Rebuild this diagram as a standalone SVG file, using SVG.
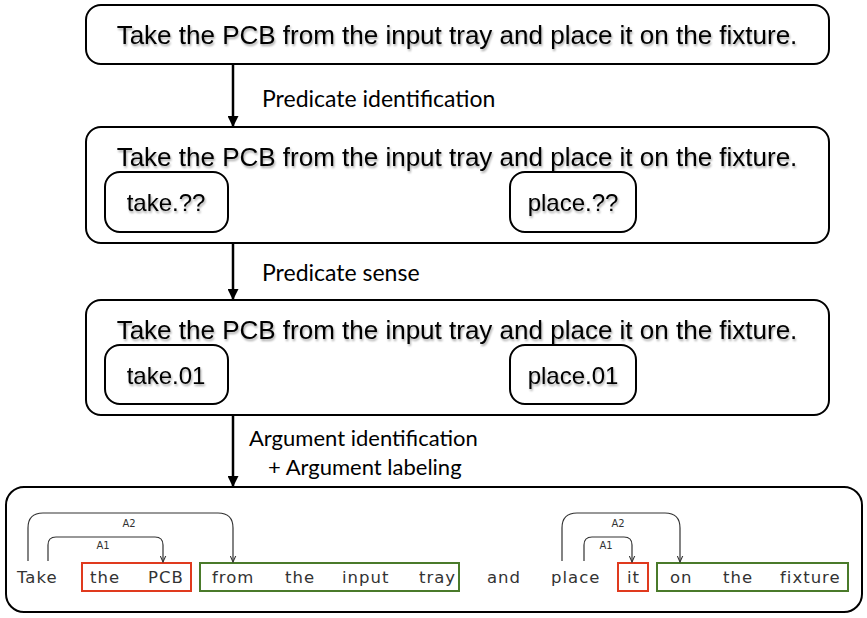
<svg xmlns="http://www.w3.org/2000/svg" width="867" height="618" viewBox="0 0 867 618">
<defs>
<marker id="arr" viewBox="0 0 10 10" refX="9" refY="5" markerWidth="11" markerHeight="11" markerUnits="userSpaceOnUse" orient="auto"><path d="M0,0 L10,5 L0,10 z" fill="#000"/></marker>
<marker id="sarr" viewBox="0 0 10 10" refX="9" refY="5" markerWidth="7" markerHeight="7" markerUnits="userSpaceOnUse" orient="auto"><path d="M0,1 L9,5 L0,9" fill="none" stroke="#333" stroke-width="1.5"/></marker>
<filter id="sh" x="-5%" y="-20%" width="110%" height="140%"><feGaussianBlur in="SourceAlpha" stdDeviation="1.2"/><feOffset dx="1" dy="1.5"/><feComponentTransfer><feFuncA type="linear" slope="0.35"/></feComponentTransfer><feMerge><feMergeNode/><feMergeNode in="SourceGraphic"/></feMerge></filter>
</defs>
<style>
.box{fill:#fff;stroke:#000;stroke-width:2}
.sent{font-family:"Liberation Sans",Arial,sans-serif;font-size:26px;fill:#000;text-anchor:middle}
.pred{font-family:"Liberation Sans",Arial,sans-serif;font-size:24px;fill:#000;text-anchor:middle}
.lbl{font-family:Lato,"Open Sans",sans-serif;font-size:23px;fill:#000}
.lbl2{font-family:Lato,"Open Sans",sans-serif;font-size:22px;fill:#000}
.conn{stroke:#000;stroke-width:2.5;fill:none}
.w{font-family:"DejaVu Sans",sans-serif;font-size:16.5px;letter-spacing:1px;fill:#333}
.arc{stroke:#333;stroke-width:1.2;fill:none}
.al{font-family:"DejaVu Sans",sans-serif;font-size:10px;fill:#333;text-anchor:middle}
.red{fill:none;stroke:#e03a1e;stroke-width:2}
.grn{fill:none;stroke:#4a7a2a;stroke-width:2}
</style>
<g id="connectors">
<line class="conn" x1="233" y1="64" x2="233" y2="126" marker-end="url(#arr)"/>
<line class="conn" x1="233" y1="243" x2="233" y2="299" marker-end="url(#arr)"/>
<line class="conn" x1="233" y1="415" x2="233" y2="486" marker-end="url(#arr)"/>
<text class="lbl" x="262" y="107">Predicate identification</text>
<text class="lbl" x="262" y="281">Predicate sense</text>
<text class="lbl2" x="249" y="446">Argument identification</text>
<text class="lbl2" x="268" y="475">+ Argument labeling</text>
</g>
<g id="node1">
<rect class="box" x="86" y="5" width="743" height="59" rx="15"/>
<text class="sent" x="457" y="44" filter="url(#sh)">Take the PCB from the input tray and place it on the fixture.</text>
</g>
<g id="node2">
<rect class="box" x="86" y="127" width="743" height="116" rx="15"/>
<text class="sent" x="457" y="166" filter="url(#sh)">Take the PCB from the input tray and place it on the fixture.</text>
<rect class="box" x="105" y="172" width="123" height="60" rx="15"/>
<text class="pred" x="166" y="211" filter="url(#sh)">take.??</text>
<rect class="box" x="510" y="172" width="126" height="60" rx="15"/>
<text class="pred" x="573" y="211" filter="url(#sh)">place.??</text>
</g>
<g id="node3">
<rect class="box" x="86" y="300" width="743" height="115" rx="15"/>
<text class="sent" x="457" y="339" filter="url(#sh)">Take the PCB from the input tray and place it on the fixture.</text>
<rect class="box" x="105" y="345" width="123" height="59" rx="15"/>
<text class="pred" x="166" y="384" filter="url(#sh)">take.01</text>
<rect class="box" x="510" y="345" width="126" height="59" rx="15"/>
<text class="pred" x="573" y="384" filter="url(#sh)">place.01</text>
</g>
<g id="node4">
<rect class="box" x="6" y="487" width="856" height="125" rx="18"/>
<rect class="red" x="82" y="563" width="109" height="28"/>
<rect class="grn" x="200" y="563" width="259" height="28"/>
<rect class="red" x="618" y="563" width="30" height="28"/>
<rect class="grn" x="657" y="563" width="191" height="28"/>
<text class="w" x="17" y="583">Take</text>
<text class="w" x="90" y="583">the</text>
<text class="w" x="148" y="583">PCB</text>
<text class="w" x="212" y="583">from</text>
<text class="w" x="285" y="583">the</text>
<text class="w" x="342" y="583">input</text>
<text class="w" x="419" y="583">tray</text>
<text class="w" x="487" y="583">and</text>
<text class="w" x="551" y="583">place</text>
<text class="w" x="627" y="583">it</text>
<text class="w" x="670" y="583">on</text>
<text class="w" x="723" y="583">the</text>
<text class="w" x="780" y="583">fixture</text>
<path class="arc" d="M28,561 V528 Q28,513 43,513 H218 Q233,513 233,528 V562" marker-end="url(#sarr)"/>
<path class="arc" d="M48,561 V545 Q48,537 56,537 H155 Q163,537 163,545 V562" marker-end="url(#sarr)"/>
<text class="al" x="129" y="527">A2</text>
<text class="al" x="103" y="549">A1</text>
<path class="arc" d="M562,561 V528 Q562,513 577,513 H665 Q680,513 680,528 V562" marker-end="url(#sarr)"/>
<path class="arc" d="M584,561 V545 Q584,537 592,537 H624 Q632,537 632,545 V562" marker-end="url(#sarr)"/>
<text class="al" x="618" y="527">A2</text>
<text class="al" x="606" y="549">A1</text>
</g>
</svg>
